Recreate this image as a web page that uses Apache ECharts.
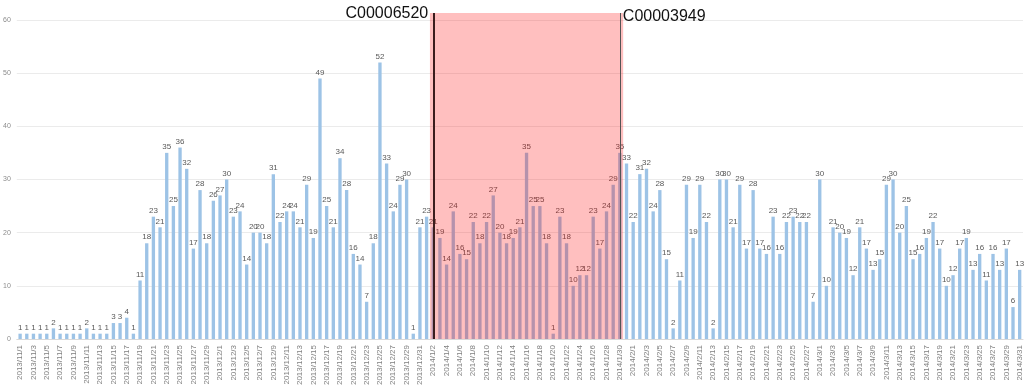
<!DOCTYPE html>
<html>
<head>
<meta charset="utf-8">
<script src="https://cdn.jsdelivr.net/npm/echarts@6/dist/echarts.min.js"></script>
<style>
  html, body { margin: 0; padding: 0; background: #fff; }
  #chart { width: 1032px; height: 390px; }
</style>
</head>
<body>
<div id="chart"></div>
<script>
// daily counts, split around the highlighted stretch
const countsBefore = [1, 1, 1, 1, 1, 2, 1, 1, 1, 1, 2, 1, 1, 1, 3, 3, 4, 1, 11, 18,
  23, 21, 35, 25, 36, 32, 17, 28, 18, 26, 27, 30, 23, 24, 14, 20, 20,
  18, 31, 22, 24, 24, 21, 29, 19, 49, 25, 21, 34, 28, 16, 14, 7, 18, 52, 33, 24, 29, 30, 1, 21, 23]
const countsMarked = [21, 19, 14, 24, 16, 15, 22, 18, 22, 27, 20,
  18, 19, 21, 35, 25, 25, 18, 1, 23, 18, 10, 12, 12, 23, 17, 24, 29, 35]
const countsAfter = [33, 22, 31, 32, 24, 28, 15, 2, 11, 29, 19, 29, 22, 2, 30, 30, 21, 29, 17, 28, 17, 16,
  23, 16, 22, 23, 22, 22, 7, 30, 10, 21, 20, 19, 12, 21, 17, 13, 15, 29, 30, 20, 25, 15, 16, 19,
  22, 17, 10, 12, 17, 19, 13, 16, 11, 16, 13, 17, 6, 13]

const markNames = ['C00006520', 'C00003949']
const firstDay = '2013/11/1'

const counts = countsBefore.concat(countsMarked, countsAfter)

// one category per day
const days = []
const d = new Date(firstDay)
for (let i = 0; i < counts.length; i++) {
  days.push(d.getFullYear() + '/' + (d.getMonth() + 1) + '/' + d.getDate())
  d.setDate(d.getDate() + 1)
}

const markStart = days[countsBefore.length]
const markEnd = days[countsBefore.length + countsMarked.length - 1]

const chart = echarts.init(document.getElementById('chart'))
chart.setOption({
  animation: false,
  textStyle: { fontFamily: 'Liberation Sans, Arial, sans-serif' },
  grid: { left: 15, right: 9, top: 13, bottom: 51 },
  xAxis: {
    type: 'category',
    data: days,
    axisLine: { lineStyle: { color: '#d9d9d9' } },
    axisTick: { show: false },
    axisLabel: { rotate: 90, interval: 1, fontSize: 8, color: '#7f7f7f', margin: 6 }
  },
  yAxis: {
    type: 'value',
    min: 0,
    max: 61.3,
    interval: 10,
    axisLabel: { fontSize: 7, color: '#8c8c8c', margin: 6, showMaxLabel: false },
    splitLine: { showMaxLine: false, lineStyle: { color: '#ebebeb' } }
  },
  series: [
    {
      type: 'bar',
      z: 0, // keep bars under the highlight (markers sit at z 1)
      data: counts,
      barWidth: '50%',
      itemStyle: { color: '#9dc3e6' },
      label: { show: true, position: 'top', distance: 2, fontSize: 8, color: '#595959' },
      markArea: {
        silent: true,
        itemStyle: { color: 'rgba(255, 0, 0, 0.25)' },
        data: [[{ xAxis: markStart }, { xAxis: markEnd }]]
      },
      markLine: {
        silent: true,
        symbol: 'none',
        data: [
          {
            name: markNames[0], xAxis: markStart,
            lineStyle: { color: '#3b1d1d', width: 2, type: 'solid' },
            label: {
              position: 'end', formatter: '{b}', align: 'right', verticalAlign: 'middle',
              distance: -1, padding: [0, 5, 0, 0], fontSize: 16, color: '#111'
            }
          },
          {
            name: markNames[1], xAxis: markEnd,
            lineStyle: { color: '#555', width: 1, type: 'solid' },
            label: {
              position: 'end', formatter: '{b}', align: 'left', verticalAlign: 'middle',
              distance: -4, padding: [0, 0, 0, 3], fontSize: 16, color: '#111'
            }
          }
        ]
      }
    }
  ]
})
</script>
</body>
</html>
